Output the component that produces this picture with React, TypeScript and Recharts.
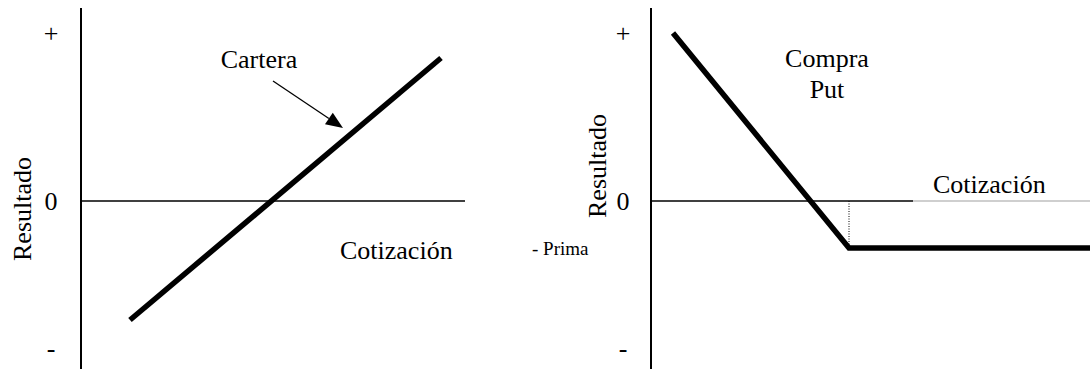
import { LineChart, Line, XAxis, YAxis, ReferenceLine } from "recharts";

// units: tenths of a pixel-ish, zero line at y=0, vertical axis at x=0
const leftLine = [
  { x: 4.9, y: -11.9 },
  { x: 36.0, y: 14.3 },
];
const putLine = [
  { x: 2.2, y: 16.8 },
  { x: 19.8, y: -4.7 },
  { x: 43.9, y: -4.7 },
];
const tickValues = [16.8, 0, -14.7];
const tickLabels: Record<string, string> = { "16.8": "+", "0": "0", "-14.7": "-" };
const arrowFrom = { x: 19.2, y: 12.0 };
const arrowTo = { x: 26.2, y: 7.3 };
const strike = 19.8;
const prima = -4.7;

const FONT = "'Liberation Serif', 'Times New Roman', serif";
const Y_DOMAIN: [number, number] = [-16.8, 19.3];

function makeTick(offset: number) {
  return (props: { x: number; y: number; payload: { value: number } }) => {
    const label = tickLabels[String(props.payload.value)] ?? "";
    return (
      <text
        x={props.x - offset}
        y={props.y}
        dy="0.35em"
        textAnchor="middle"
        fontFamily={FONT}
        fontSize={26}
        fill="#000"
      >
        {label}
      </text>
    );
  };
}

function ArrowShape(p: { x1?: number; y1?: number; x2?: number; y2?: number }) {
  const x1 = p.x1 ?? 0, y1 = p.y1 ?? 0, x2 = p.x2 ?? 0, y2 = p.y2 ?? 0;
  const ang = Math.atan2(y2 - y1, x2 - x1);
  const len = 17, half = 7;
  const bx = x2 - len * Math.cos(ang), by = y2 - len * Math.sin(ang);
  const px = -Math.sin(ang) * half, py = Math.cos(ang) * half;
  return (
    <g>
      <line x1={x1} y1={y1} x2={bx} y2={by} stroke="#000" strokeWidth={1.3} />
      <polygon points={`${x2},${y2} ${bx + px},${by + py} ${bx - px},${by - py}`} fill="#000" />
    </g>
  );
}

const textStyle = { fontFamily: FONT, fontSize: 26, fill: "#000" };

export default function App() {
  return (
    <div style={{ position: "absolute", left: 0, top: 0, width: 1090, height: 369, background: "#fff" }}>
      <div style={{ position: "absolute", left: 0, top: 0 }}>
        <LineChart width={520} height={369} data={leftLine} margin={{ top: 8, right: 55, bottom: 0, left: 21 }}>
          <XAxis type="number" dataKey="x" domain={[0, 38.4]} hide />
          <YAxis
            type="number"
            domain={Y_DOMAIN}
            ticks={tickValues}
            width={60}
            axisLine={{ stroke: "#000", strokeWidth: 2 }}
            tickLine={false}
            tick={makeTick(22)}
            interval={0}
          />
          <ReferenceLine y={0} stroke="#000" strokeWidth={1.5} />
          <ReferenceLine
            segment={[arrowFrom, arrowTo]}
            shape={(p: unknown) => <ArrowShape {...(p as object)} />}
          />
          <Line
            type="linear"
            dataKey="y"
            stroke="#000"
            strokeWidth={5.5}
            dot={false}
            isAnimationActive={false}
          />
          <text x={259} y={68} textAnchor="middle" {...textStyle}>Cartera</text>
          <text x={340} y={259} {...textStyle}>Cotización</text>
          <text x={22} y={209} textAnchor="middle" dy="0.35em" transform="rotate(-90 22 209)" {...textStyle}>
            Resultado
          </text>
        </LineChart>
      </div>
      <div style={{ position: "absolute", left: 520, top: 0 }}>
        <LineChart width={570} height={369} data={putLine} margin={{ top: 8, right: 0, bottom: 0, left: 71 }}>
          <XAxis type="number" dataKey="x" domain={[0, 43.9]} hide />
          <YAxis
            type="number"
            domain={Y_DOMAIN}
            ticks={tickValues}
            width={60}
            axisLine={{ stroke: "#000", strokeWidth: 2 }}
            tickLine={false}
            tick={makeTick(20)}
            interval={0}
          />
          <ReferenceLine segment={[{ x: 0, y: 0 }, { x: 26.2, y: 0 }]} stroke="#000" strokeWidth={1.5} />
          <ReferenceLine segment={[{ x: 26.2, y: 0 }, { x: 43.9, y: 0 }]} stroke="#a0a0a0" strokeWidth={1.2} />
          <ReferenceLine
            segment={[{ x: strike, y: 0 }, { x: strike, y: prima }]}
            stroke="#000"
            strokeWidth={1}
            strokeDasharray="1 1.5"
          />
          <Line
            type="linear"
            dataKey="y"
            stroke="#000"
            strokeWidth={5.5}
            dot={false}
            isAnimationActive={false}
          />
          <text x={307} y={67} textAnchor="middle" {...textStyle}>Compra</text>
          <text x={307} y={98} textAnchor="middle" {...textStyle}>Put</text>
          <text x={413} y={193} {...textStyle}>Cotización</text>
          <text x={12} y={255} fontFamily={FONT} fontSize={19} fill="#000">- Prima</text>
          <text x={77} y={166} textAnchor="middle" dy="0.35em" transform="rotate(-90 77 166)" {...textStyle}>
            Resultado
          </text>
        </LineChart>
      </div>
    </div>
  );
}
